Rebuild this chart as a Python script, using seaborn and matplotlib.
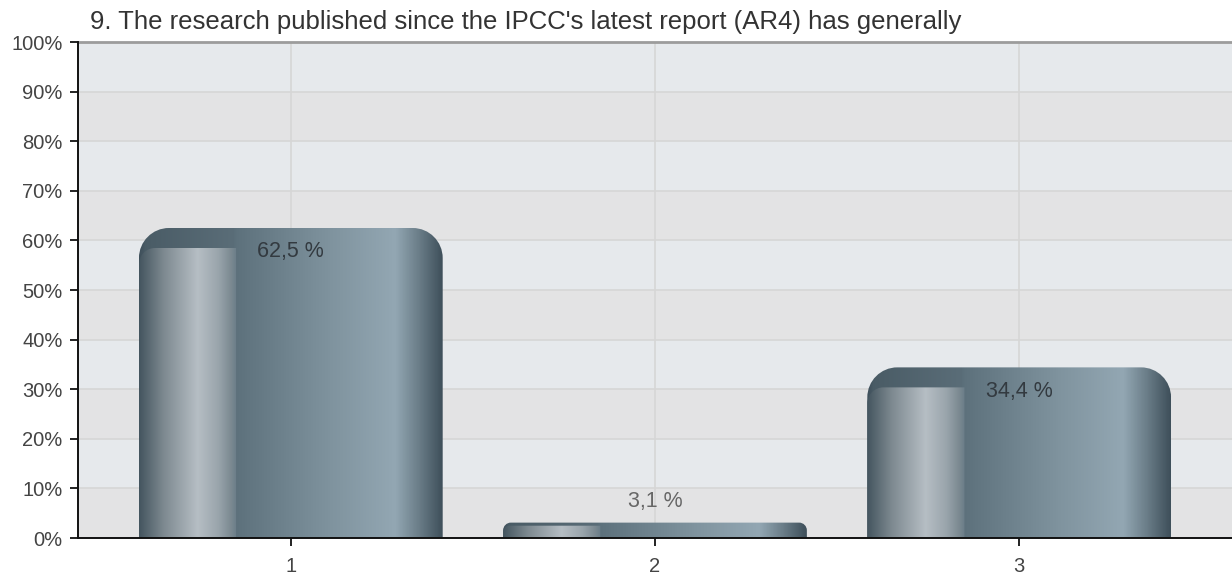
import numpy as np
import matplotlib
matplotlib.use("Agg")
import matplotlib.pyplot as plt
from matplotlib.path import Path
from matplotlib.patches import PathPatch
from matplotlib.colors import LinearSegmentedColormap
import seaborn as sns

# ---- data ----
title = "9. The research published since the IPCC's latest report (AR4) has generally"
categories = ["1", "2", "3"]
values = [62.5, 3.1, 34.4]
value_labels = ["62,5 %", "3,1 %", "34,4 %"]
ytick_values = [0, 10, 20, 30, 40, 50, 60, 70, 80, 90, 100]
ytick_labels = ["0%", "10%", "20%", "30%", "40%", "50%", "60%", "70%", "80%", "90%", "100%"]

sns.set_theme(style="white")
plt.rcParams["font.family"] = ["Liberation Sans", "DejaVu Sans"]

W, H = 1232, 578
fig = plt.figure(figsize=(W / 100, H / 100), dpi=100)
ax = fig.add_axes([78 / W, 40 / H, 1 - 78 / W, (538 - 42) / H])

sns.barplot(x=categories, y=values, width=0.834, color="#6d8290", ax=ax, zorder=2)
bars = list(ax.containers[0])

# background bands
band_light = "#e6e9ec"
band_gray = "#e3e3e4"
for i in range(10):
    ax.axhspan(i * 10, (i + 1) * 10, color=band_light if i % 2 else band_gray, zorder=0, lw=0)

XMIN, XMAX = -0.5844, 2.5844
ax.set_xlim(XMIN, XMAX)
ax.set_ylim(0, 100)

# grid
for yv in ytick_values[1:-1]:
    ax.axhline(yv, color="#d6d6d6", lw=1.2, zorder=1)
for xv in range(len(categories)):
    ax.axvline(xv, color="#d6d6d6", lw=1.2, zorder=1)
ax.axhline(100, color="#9c9c9c", lw=2.0, zorder=1, clip_on=False)

# pixel scales
ax_w_px = W - 78
ax_h_px = 538 - 42
px_per_x = ax_w_px / (XMAX - XMIN)
px_per_y = ax_h_px / 100.0

outer_stops = [
    (0.0, "#3f505b"), (0.02, "#4a5c66"), (0.31, "#5a6d78"), (0.32, "#5d717c"),
    (0.63, "#7f939e"), (0.845, "#93a7b3"), (0.92, "#6c7f8a"), (1.0, "#3f505b"),
]
inner_stops = [
    (0.0, "#44555f"), (0.25, "#7d8990"), (0.6, "#b6bec4"), (0.81, "#9aa5ac"),
    (0.94, "#7c8a92"), (1.0, "#6a7d88"),
]
outer_cmap = LinearSegmentedColormap.from_list("outer", outer_stops)
inner_cmap = LinearSegmentedColormap.from_list("inner", inner_stops)

K = 0.5523


def top_rounded_path(x0, x1, y0, y1, rx, ry, right_round=True):
    verts = [(x0, y0), (x1, y0)]
    codes = [Path.MOVETO, Path.LINETO]
    if right_round:
        verts += [(x1, y1 - ry), (x1, y1 - ry + K * ry), (x1 - rx + K * rx, y1), (x1 - rx, y1)]
        codes += [Path.LINETO, Path.CURVE4, Path.CURVE4, Path.CURVE4]
    else:
        verts += [(x1, y1)]
        codes += [Path.LINETO]
    verts += [(x0 + rx, y1), (x0 + rx - K * rx, y1), (x0, y1 - ry + K * ry), (x0, y1 - ry), (x0, y0)]
    codes += [Path.LINETO, Path.CURVE4, Path.CURVE4, Path.CURVE4, Path.CLOSEPOLY]
    return Path(verts, codes)


def gradient_fill(path, cmap, extent, z):
    patch = PathPatch(path, facecolor="none", edgecolor="none", zorder=z)
    ax.add_patch(patch)
    grad = cmap(np.linspace(0, 1, 600))[None, :, :3]
    im = ax.imshow(grad, extent=extent, aspect="auto", interpolation="bilinear",
                   origin="lower", zorder=z)
    im.set_clip_path(patch)


for bar in bars:
    bar.set_visible(False)
    x0 = bar.get_x()
    w = bar.get_width()
    h = bar.get_height()
    x1 = x0 + w
    h_px = h * px_per_y
    r_px = min(30.0, h_px * 0.5)
    rx, ry = r_px / px_per_x, r_px / px_per_y
    gradient_fill(top_rounded_path(x0, x1, 0, h, rx, ry), outer_cmap, (x0, x1, 0, h), 3)
    # inner highlight piece
    d_px = min(20.0, h_px * 0.2)
    hi = h - d_px / px_per_y
    ir_px = min(16.0, (hi * px_per_y) * 0.5)
    irx, iry = ir_px / px_per_x, ir_px / px_per_y
    xi1 = x0 + 0.32 * w
    gradient_fill(top_rounded_path(x0, xi1, 0, hi, irx, iry, right_round=False),
                  inner_cmap, (x0, xi1, 0, hi), 4)

ax.set_xlim(XMIN, XMAX)
ax.set_ylim(0, 100)

# value labels
for i, (v, lab) in enumerate(zip(values, value_labels)):
    if v > 10:
        ax.text(i, v - 4.8, lab, ha="center", va="center", fontsize=15.5, color="#333a40", zorder=6)
    else:
        ax.text(i, v + 4.2, lab, ha="center", va="center", fontsize=15.5, color="#666666", zorder=6)

ax.set_yticks(ytick_values)
ax.set_yticklabels(ytick_labels)
ax.tick_params(axis="both", which="both", length=6, width=1.3, color="#111111",
               labelsize=14.5, labelcolor="#444444", direction="out", pad=5,
               left=True, bottom=True)
ax.tick_params(axis="x", pad=8)
for s in ["top", "right"]:
    ax.spines[s].set_visible(False)
for s in ["left", "bottom"]:
    ax.spines[s].set_visible(True)
    ax.spines[s].set_color("#111111")
    ax.spines[s].set_linewidth(1.4)
    ax.spines[s].set_zorder(7)
ax.set_xlabel("")
ax.set_ylabel("")
ax.grid(False)

fig.text(90 / W, 1 - 22 / H, title, fontsize=18.5, color="#333333", ha="left", va="center")

fig.savefig("out.png", dpi=100)
